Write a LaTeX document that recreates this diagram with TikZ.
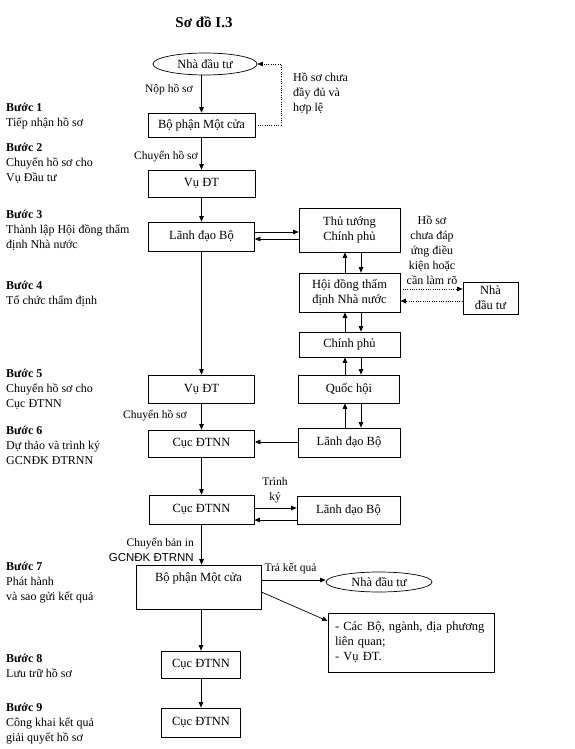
\documentclass[tikz,border=0pt]{standalone}
\usepackage{fontspec}
\setmainfont{Liberation Serif}
\newfontfamily\arialfont{Liberation Sans}
\usetikzlibrary{arrows.meta,shapes.geometric}
\newcommand{\fsz}[1]{\fontsize{#1}{15}\selectfont}
\begin{document}
\begin{tikzpicture}[x=1pt,y=-1pt,
  box/.style={draw, line width=0.7pt, inner sep=0pt, align=center, font=\fsz{12.5}},
  ell/.style={ellipse, draw, line width=0.7pt, inner sep=0pt, font=\fsz{12.5}},
  arr/.style={line width=0.7pt, -{Triangle[length=5.5pt,width=4.5pt]}},
  dot/.style={arr, dash pattern=on 1pt off 1.3pt},
  lbl/.style={font=\fsz{11.5}, inner sep=0pt},
  steplbl/.style={anchor=north west, inner sep=0pt, align=left, font=\fsz{12}}]
\useasboundingbox (0,0) rectangle (575,749);

\node[font=\bfseries\fontsize{15}{18}\selectfont, inner sep=0pt] (title) at (204,22) {Sơ đồ I.3};

% left step labels
\node[steplbl] (s1) at (6,100.5) {\strut\textbf{Bước 1}\\Tiếp nhận hồ sơ};
\node[steplbl] (s2) at (6,140.5) {\strut\textbf{Bước 2}\\Chuyển hồ sơ cho\\Vụ Đầu tư};
\node[steplbl] (s3) at (6,207.5) {\strut\textbf{Bước 3}\\Thành lập Hội đồng thẩm\\định Nhà nước};
\node[steplbl] (s4) at (6,278.5) {\strut\textbf{Bước 4}\\Tổ chức thẩm định};
\node[steplbl] (s5) at (6,366.5) {\strut\textbf{Bước 5}\\Chuyển hồ sơ cho\\Cục ĐTNN};
\node[steplbl] (s6) at (6,423.5) {\strut\textbf{Bước 6}\\Dự thảo và trình ký\\GCNĐK ĐTRNN};
\node[steplbl] (s7) at (6,559.5) {\strut\textbf{Bước 7}\\Phát hành\\và sao gửi kết quả};
\node[steplbl] (s8) at (6,651.5) {\strut\textbf{Bước 8}\\Lưu trữ hồ sơ};
\node[steplbl] (s9) at (6,700.5) {\strut\textbf{Bước 9}\\Công khai kết quả\\giải quyết hồ sơ};

% nodes
\node[ell, minimum width=104pt, minimum height=22pt] (nd1) at (205,64) {Nhà đầu tư};
\node[box, minimum width=107pt, minimum height=24pt] (b1) at (201.5,125) {Bộ phận Một cửa};
\node[box, minimum width=107pt, minimum height=27pt] (vu1) at (201.5,183.5) {Vụ ĐT};
\node[box, minimum width=106pt, minimum height=29pt] (ldb1) at (201.5,236.5) {Lãnh đạo Bộ};
\node[box, minimum width=101pt, minimum height=44pt] (ttcp) at (349.5,230) {Thủ tướng\\Chính phủ};
\node[box, minimum width=101pt, minimum height=39pt] (hd) at (349.5,292.5) {Hội đồng thẩm\\định Nhà nước};
\node[box, minimum width=55pt, minimum height=32pt] (nd2) at (490.5,298) {Nhà\\đầu tư};
\node[box, minimum width=101pt, minimum height=25pt] (cp) at (349.5,344.5) {Chính phủ};
\node[box, minimum width=106pt, minimum height=28pt] (vu2) at (201.5,389) {Vụ ĐT};
\node[box, minimum width=101pt, minimum height=28pt] (qh) at (349,389) {Quốc hội};
\node[box, minimum width=106pt, minimum height=27pt] (cuc1) at (201.5,443.5) {Cục ĐTNN};
\node[box, minimum width=102pt, minimum height=29pt] (ldb2) at (349,442.5) {Lãnh đạo Bộ};
\node[box, minimum width=105pt, minimum height=29pt] (cuc2) at (201.5,509.5) {Cục ĐTNN};
\node[box, minimum width=103pt, minimum height=28pt] (ldb3) at (348.5,510) {Lãnh đạo Bộ};
\node[box, minimum width=125pt, minimum height=44pt] (bp2) at (198.5,587) {Bộ phận Một cửa\\\strut};
\node[ell, minimum width=106pt, minimum height=20pt] (nd3) at (379,582) {Nhà đầu tư};
\node[box, minimum width=166pt, minimum height=59pt, align=left, text width=152pt] (lst) at (411,642.5) {- Các Bộ, ngành, địa phương\\liên quan;\\- Vụ ĐT.};
\node[box, minimum width=79pt, minimum height=27pt] (cuc3) at (201,664.5) {Cục ĐTNN};
\node[box, minimum width=79pt, minimum height=29pt] (cuc4) at (201,722.5) {Cục ĐTNN};

% connector labels
\node[lbl, anchor=east] (l1) at (193,90) {Nộp hồ sơ};
\node[lbl, anchor=east] (l2) at (198,157) {Chuyển hồ sơ};
\node[lbl, anchor=east] (l3) at (187,416) {Chuyển hồ sơ};
\node[lbl, align=center] (l4) at (275,490) {Trình\\ký};
\node[lbl, align=right, anchor=east] (l5) at (194,550) {Chuyển bản in\\{\arialfont GCNĐK ĐTRNN}};
\node[lbl] (l6) at (290.5,569) {Trả kết quả};
\node[lbl, align=left, anchor=west, font=\fsz{12}] (l7) at (293,93) {Hồ sơ chưa\\đầy đủ và\\hợp lệ};
\node[lbl, align=center, font=\fsz{12}] (l8) at (432,250) {Hồ sơ\\chưa đáp\\ứng điều\\kiện hoặc\\cần làm rõ};

% connectors
\draw[arr] (nd1.south -| b1.north) -- (b1.north);
\draw[dot] (b1.east) -- ++(26,0) |- (nd1.east);
\draw[arr] (b1.south) -- (vu1.north);
\draw[arr] (vu1.south) -- (ldb1.north);
\draw[arr] (ldb1.east |- 0,232) -- (ttcp.west |- 0,232);
\draw[arr] (ttcp.west |- 0,239) -- (ldb1.east |- 0,239);
\draw[arr] (hd.north -| 345,0) -- (ttcp.south -| 345,0);
\draw[arr] (ttcp.south -| 361,0) -- (hd.north -| 361,0);
\draw[dot] (hd.east |- 0,289) -- (nd2.west |- 0,289);
\draw[dot] (nd2.west |- 0,301) -- (hd.east |- 0,301);
\draw[arr] (cp.north -| 345,0) -- (hd.south -| 345,0);
\draw[arr] (hd.south -| 361,0) -- (cp.north -| 361,0);
\draw[arr] (qh.north -| 345,0) -- (cp.south -| 345,0);
\draw[arr] (cp.south -| 361,0) -- (qh.north -| 361,0);
\draw[arr] (ldb2.north -| 345,0) -- (qh.south -| 345,0);
\draw[arr] (qh.south -| 361,0) -- (ldb2.north -| 361,0);
\draw[arr] (ldb2.west |- 0,442) -- (cuc1.east |- 0,442);
\draw[arr] (ldb1.south) -- (vu2.north);
\draw[arr] (vu2.south) -- (cuc1.north);
\draw[arr] (cuc1.south) -- (cuc2.north);
\draw[arr] (cuc2.east |- 0,508) -- (ldb3.west |- 0,508);
\draw[arr] (ldb3.west |- 0,520) -- (cuc2.east |- 0,520);
\draw[arr] (cuc2.south) -- (cuc2.south |- bp2.north);
\draw[arr] (bp2.east |- 0,580) -- (nd3.west |- 0,580);
\draw[arr] (bp2.east |- 0,592) -- (lst.west |- 0,621);
\draw[arr] (bp2.south -| cuc3.north) -- (cuc3.north);
\draw[arr] (cuc3.south) -- (cuc4.north);
\end{tikzpicture}
\end{document}
